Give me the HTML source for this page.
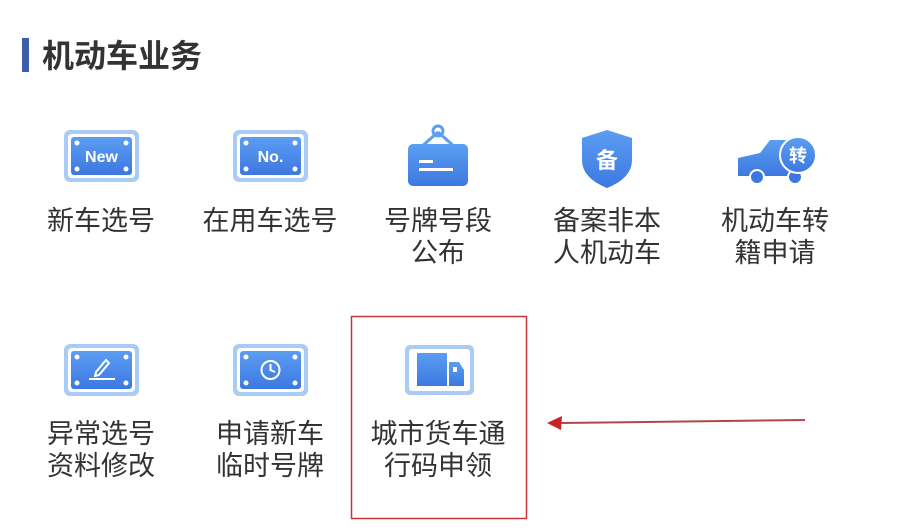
<!DOCTYPE html>
<html><head><meta charset="utf-8"><style>
html,body{margin:0;padding:0;background:#fff;}
svg{display:block}
text{font-family:"Liberation Sans","Noto Sans CJK SC",sans-serif;}
</style></head><body>
<svg width="923" height="531" viewBox="0 0 923 531" xmlns="http://www.w3.org/2000/svg">
<defs>
<linearGradient id="g" x1="0" y1="0" x2="0" y2="1"><stop offset="0" stop-color="#5b9ef2"/><stop offset="1" stop-color="#3d78e0"/></linearGradient>
</defs>
<rect x="22" y="38" width="7" height="34" fill="#3b5fa8"/>
<text x="42" y="67" font-size="32" font-weight="bold" fill="#333">机动车业务</text>

<!-- plate New -->
<g>
<rect x="64" y="130" width="75" height="52" rx="6" fill="#a9cbf5"/>
<rect x="68" y="134" width="67" height="44" rx="4" fill="#fff"/>
<rect x="71" y="137" width="61" height="38" rx="3" fill="url(#g)"/>
<circle cx="77" cy="143" r="2.5" fill="#fff"/><circle cx="126" cy="143" r="2.5" fill="#fff"/>
<circle cx="77" cy="169" r="2.5" fill="#fff"/><circle cx="126" cy="169" r="2.5" fill="#fff"/>
<text x="101.5" y="162" font-size="16" font-weight="bold" fill="#fff" text-anchor="middle">New</text>
</g>
<g>
<rect x="233" y="130" width="75" height="52" rx="6" fill="#a9cbf5"/>
<rect x="237" y="134" width="67" height="44" rx="4" fill="#fff"/>
<rect x="240" y="137" width="61" height="38" rx="3" fill="url(#g)"/>
<circle cx="246" cy="143" r="2.5" fill="#fff"/><circle cx="295" cy="143" r="2.5" fill="#fff"/>
<circle cx="246" cy="169" r="2.5" fill="#fff"/><circle cx="295" cy="169" r="2.5" fill="#fff"/>
<text x="270.5" y="162" font-size="16" font-weight="bold" fill="#fff" text-anchor="middle">No.</text>
</g>
<!-- hanging sign -->
<g>
<path d="M438 132 L420 148 M438 132 L456 148" stroke="#5b9ef2" stroke-width="3" fill="none"/>
<circle cx="438" cy="131" r="5" fill="none" stroke="#5b9ef2" stroke-width="3"/>
<rect x="408" y="144" width="60" height="42" rx="5" fill="url(#g)"/>
<rect x="419" y="160" width="14" height="3" fill="#fff"/>
<rect x="419" y="168" width="34" height="3" fill="#fff"/>
</g>
<!-- shield -->
<g>
<path d="M607 130 L632 138 L632 160 Q632 178 607 188 Q582 178 582 160 L582 138 Z" fill="url(#g)"/>
<text x="607" y="168" font-size="22" font-weight="bold" fill="#fff" text-anchor="middle">备</text>
</g>
<!-- truck 转 -->
<g>
<path d="M738 158 L760 153 L770 140 L790 140 L790 176 L738 176 Z" fill="url(#g)"/>
<circle cx="757" cy="177" r="7" fill="#3d78e0" stroke="#fff" stroke-width="2"/>
<circle cx="795" cy="177" r="7" fill="#3d78e0" stroke="#fff" stroke-width="2"/>
<circle cx="798" cy="155" r="18" fill="url(#g)" stroke="#fff" stroke-width="2"/>
<text x="798" y="162" font-size="18" font-weight="bold" fill="#fff" text-anchor="middle">转</text>
</g>

<g font-size="27" fill="#333" text-anchor="middle">
<text x="101" y="230">新车选号</text>
<text x="270" y="230">在用车选号</text>
<text x="438" y="230">号牌号段</text>
<text x="438" y="262">公布</text>
<text x="607" y="230">备案非本</text>
<text x="607" y="262">人机动车</text>
<text x="775" y="230">机动车转</text>
<text x="775" y="262">籍申请</text>
<text x="101" y="443">异常选号</text>
<text x="101" y="475">资料修改</text>
<text x="270" y="443">申请新车</text>
<text x="270" y="475">临时号牌</text>
<text x="438" y="443">城市货车通</text>
<text x="438" y="475">行码申领</text>
</g>

<!-- row 2 icons -->
<g>
<rect x="64" y="344" width="75" height="52" rx="6" fill="#a9cbf5"/>
<rect x="68" y="348" width="67" height="44" rx="4" fill="#fff"/>
<rect x="71" y="351" width="61" height="38" rx="3" fill="url(#g)"/>
<circle cx="77" cy="357" r="2.5" fill="#fff"/><circle cx="126" cy="357" r="2.5" fill="#fff"/>
<circle cx="77" cy="383" r="2.5" fill="#fff"/><circle cx="126" cy="383" r="2.5" fill="#fff"/>
<path d="M96 372 L106 360 L109 363 L99 375 L95 376 Z" fill="none" stroke="#fff" stroke-width="2"/>
<rect x="89" y="378" width="26" height="2" fill="#fff"/>
</g>
<g>
<rect x="233" y="344" width="75" height="52" rx="6" fill="#a9cbf5"/>
<rect x="237" y="348" width="67" height="44" rx="4" fill="#fff"/>
<rect x="240" y="351" width="61" height="38" rx="3" fill="url(#g)"/>
<circle cx="246" cy="357" r="2.5" fill="#fff"/><circle cx="295" cy="357" r="2.5" fill="#fff"/>
<circle cx="246" cy="383" r="2.5" fill="#fff"/><circle cx="295" cy="383" r="2.5" fill="#fff"/>
<circle cx="270.5" cy="370" r="9" fill="none" stroke="#fff" stroke-width="2"/>
<path d="M270.5 364 L270.5 370 L275 372" fill="none" stroke="#fff" stroke-width="2"/>
</g>
<g>
<rect x="405" y="345" width="69" height="50" rx="5" fill="#a9cbf5"/>
<rect x="409" y="349" width="61" height="42" rx="3" fill="#fff"/>
<rect x="417" y="353" width="30" height="33" fill="url(#g)"/>
<path d="M449 362 L459 362 L464 370 L464 386 L449 386 Z" fill="url(#g)"/>
<rect x="453" y="367" width="4" height="5" fill="#fff"/>
</g>

<rect x="351.5" y="316.5" width="175" height="202" fill="none" stroke="#c8343a" stroke-width="1.5"/>
<line x1="805" y1="420" x2="560" y2="423" stroke="#b0474a" stroke-width="2"/>
<path d="M547 423 L562 416 L561 430 Z" fill="#c8242a"/>
</svg>
</body></html>
